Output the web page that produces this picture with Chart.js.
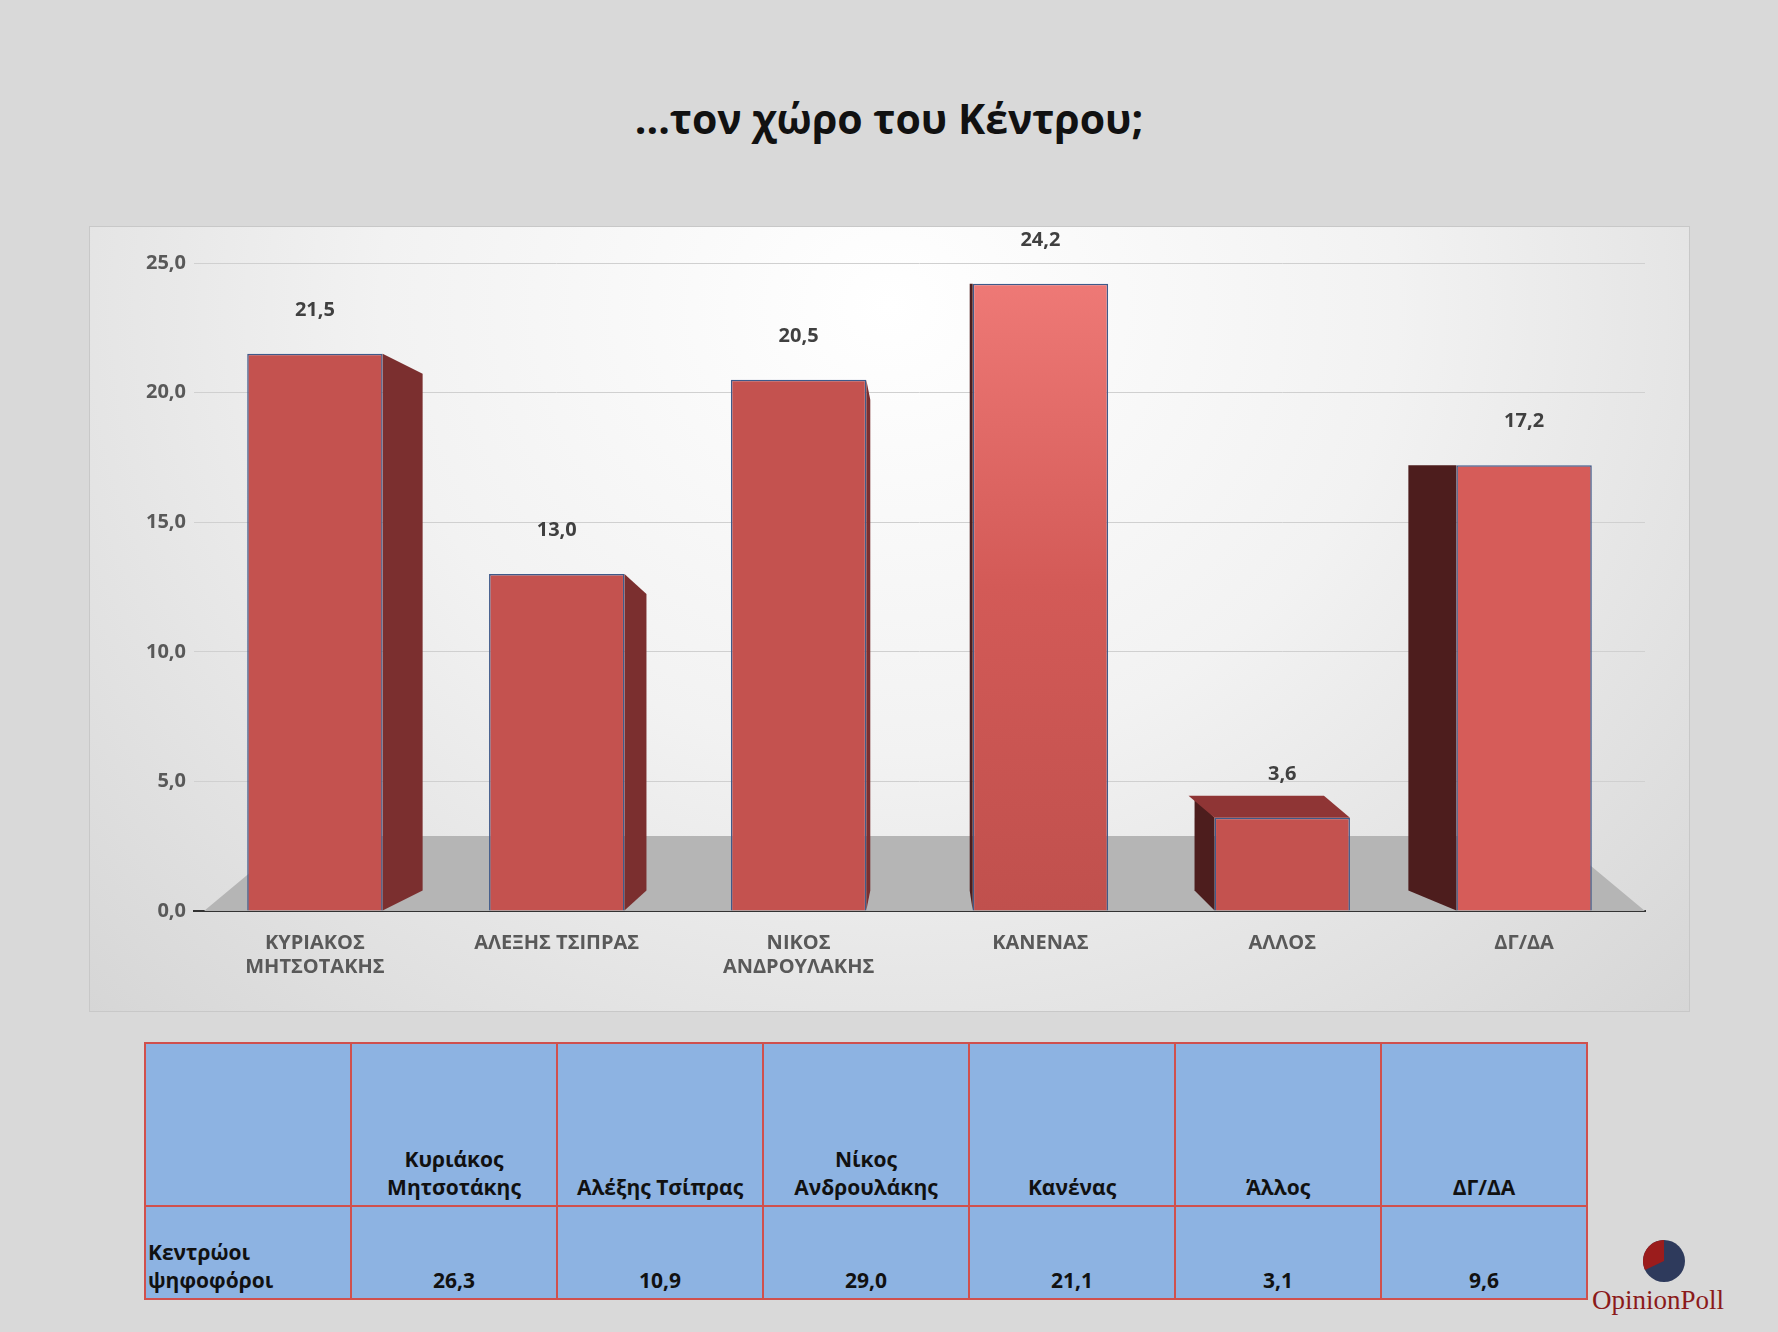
<!DOCTYPE html>
<html><head><meta charset="utf-8">
<script src="https://cdn.jsdelivr.net/npm/chart.js@4/dist/chart.umd.min.js"></script>
<style>
body{margin:0;width:1778px;height:1332px;background:#d9d9d9;font-family:"Open Sans","Noto Sans",sans-serif;position:relative;overflow:hidden}
#title{position:absolute;top:90px;left:0;width:1778px;text-align:center;font-weight:bold;font-size:41px;color:#111}
#panel{position:absolute;left:89px;top:226px;width:1599px;height:784px;border:1px solid #c8c8c8;background:radial-gradient(ellipse at 50% 10%,#ffffff 0%,#f2f2f2 45%,#d6d6d6 100%)}
table{position:absolute;left:144px;top:1042px;border-collapse:collapse;font-weight:bold;font-size:21px;color:#111;table-layout:fixed}
td{border:2px solid #d0504d;background:#8db3e2;width:206px;text-align:center;vertical-align:bottom;padding:0 2px 4px;box-sizing:border-box}
#logo{position:absolute;left:1592px;top:1285px;font-family:"Liberation Serif",serif;font-size:27px;color:#8b1a1a}
</style></head><body>
<div id="title">...τον χώρο του Κέντρου;</div>
<div id="panel"><canvas id="c" width="1599" height="784"></canvas></div>
<table id="tbl"></table>
<svg style="position:absolute;left:1637px;top:1236px" width="50" height="50"><circle cx="27" cy="25" r="21" fill="#2e3a5c"/><path d="M27 25 L27 4 A21 21 0 0 0 8 34 Z" fill="#9b1c1c"/></svg>
<div id="logo">OpinionPoll</div>
<script>
const categories=["ΚΥΡΙΑΚΟΣ\nΜΗΤΣΟΤΑΚΗΣ","ΑΛΕΞΗΣ ΤΣΙΠΡΑΣ","ΝΙΚΟΣ\nΑΝΔΡΟΥΛΑΚΗΣ","ΚΑΝΕΝΑΣ","ΑΛΛΟΣ","ΔΓ/ΔΑ"];
const values=[21.5,13.0,20.5,24.2,3.6,17.2];
const yTicks=[0,5,10,15,20,25];
const tableHeaders=["Κυριάκος\nΜητσοτάκης","Αλέξης Τσίπρας","Νίκος\nΑνδρουλάκης","Κανένας","Άλλος","ΔΓ/ΔΑ"];
const tableRowLabel="Κεντρώοι\nψηφοφόροι";
const tableValues=[26.3,10.9,29.0,21.1,3.1,9.6];
const fmt=v=>v.toFixed(1).replace('.',',');

let h='<tr><td style="height:163px"></td>'+tableHeaders.map(t=>'<td>'+t.replace('\n','<br>')+'</td>').join('')+'</tr>';
h+='<tr><td style="height:93px;text-align:left">'+tableRowLabel.replace('\n','<br>')+'</td>'+tableValues.map(v=>'<td>'+fmt(v)+'</td>').join('')+'</tr>';
document.getElementById('tbl').innerHTML=h;

const deco={id:'deco',
beforeDatasetsDraw(ch){const {ctx,chartArea:a,scales:{y}}=ch;const y0=y.getPixelForValue(0);
 ctx.save();ctx.fillStyle='#b5b5b5';ctx.beginPath();ctx.moveTo(a.left+10,y0);ctx.lineTo(a.right,y0);ctx.lineTo(a.right-90,y0-75);ctx.lineTo(a.left+100,y0-75);ctx.closePath();ctx.fill();ctx.restore();},
afterDatasetsDraw(ch){const {ctx}=ch;const m=ch.getDatasetMeta(0);ctx.save();
 m.data.forEach((b,i)=>{const w=b.width,l=b.x-w/2,r=b.x+w/2;const d=40;
  ctx.fillStyle=i<3?'#7b2f2f':'#4d1d1d';ctx.beginPath();
  if(i<3){ctx.moveTo(r,b.y);ctx.lineTo(r+d*(1-i*0.45),b.y+20);ctx.lineTo(r+d*(1-i*0.45),b.base-20);ctx.lineTo(r,b.base);}
  else{const dd=[3,20,48][i-3];ctx.moveTo(l,b.y);ctx.lineTo(l-dd,b.y-20+ (i==4?0:20));ctx.lineTo(l-dd,b.base-20);ctx.lineTo(l,b.base);}
  ctx.closePath();ctx.fill();
  if(i==4){ctx.fillStyle='#8f3535';ctx.beginPath();ctx.moveTo(l,b.y);ctx.lineTo(l-26,b.y-22);ctx.lineTo(r-26,b.y-22);ctx.lineTo(r,b.y);ctx.fill();}
  ctx.fillStyle='#404040';ctx.font='bold 20px "Open Sans"';ctx.textAlign='center';
  ctx.fillText(fmt(values[i]),b.x,b.y-38);
 });ctx.restore();}};

new Chart(document.getElementById('c'),{type:'bar',
data:{labels:categories.map(c=>c.split('\n')),datasets:[{data:values,
 backgroundColor:(c)=>{const a=c.chart.chartArea;if(!a)return '#c0504d';const g=c.chart.ctx.createLinearGradient(0,a.top,0,a.bottom);g.addColorStop(0,'#f07b78');g.addColorStop(0.5,'#d35a57');g.addColorStop(1,'#c0504d');return c.dataIndex==3?g:(c.dataIndex==5?'#d65c59':'#c4524f');},
 borderColor:'#3f5a8a',borderWidth:1.5,barPercentage:0.56,categoryPercentage:1}]},
plugins:[deco],
options:{responsive:false,animation:false,layout:{padding:{left:0,right:44,top:36,bottom:0}},
plugins:{legend:{display:false},tooltip:{enabled:false}},
scales:{
 y:{min:0,max:25,afterFit:s=>{s.width=104;},afterBuildTicks:s=>{s.ticks=yTicks.map(v=>({value:v}));},
  ticks:{callback:v=>fmt(v),color:'#595959',font:{size:20,weight:'bold',family:'Open Sans'},padding:8},
  grid:{color:'#d0d0d0',drawTicks:false},border:{display:false}},
 x:{afterFit:s=>{s.height=100;},ticks:{color:'#595959',font:{size:20,weight:'bold',family:'Open Sans'},maxRotation:0,padding:12},
  grid:{display:false},border:{color:'#333',width:2}}
}}});
</script></body></html>
